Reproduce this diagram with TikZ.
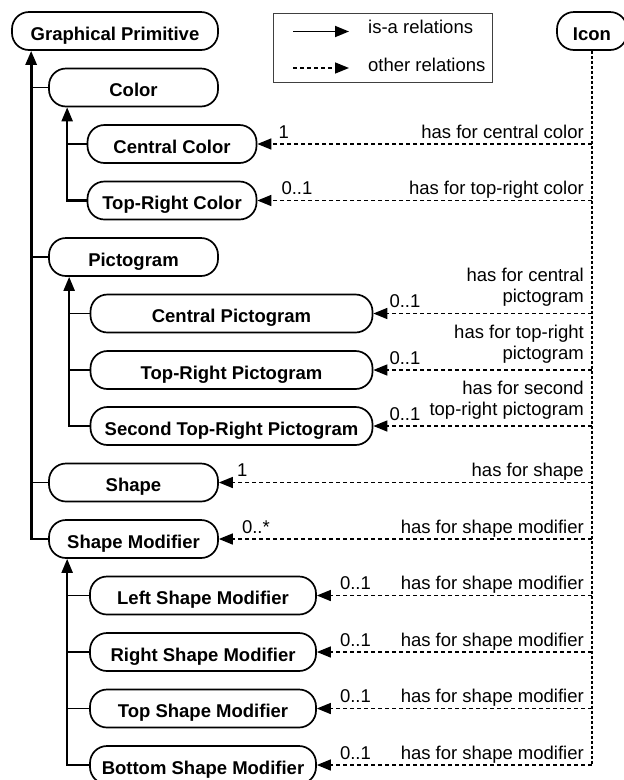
\documentclass[tikz,border=0pt]{standalone}
\usepackage{fontspec}
\setmainfont{Liberation Sans}
\usepackage{tikz}
\usetikzlibrary{arrows.meta,calc}

\tikzset{
  concept/.style={draw, line width=1.7pt, rounded corners=17pt, minimum height=38pt,
    inner sep=0pt, text height=18pt, text depth=0pt,
    font=\bfseries\fontsize{18.5}{22}\selectfont},
  isa/.style={line width=2.2pt, -{Triangle[length=14pt,width=11pt]}},
  branch/.style={line width=1.7pt},
  rel/.style={line width=1.5pt, dash pattern=on 4pt off 3pt, -{Triangle[length=14pt,width=11pt]}},
  iconline/.style={line width=2.8pt, dash pattern=on 3pt off 2pt},
  lbl/.style={font=\fontsize{18.5}{21}\selectfont, inner sep=0pt},
}

\begin{document}
\begin{tikzpicture}[x=1pt, y=-1pt]
      \useasboundingbox (0,0) rectangle (624,780);
      % concepts
      \node [concept, minimum width=206pt] (gp) at (115,31) {Graphical Primitive};
      \node [concept, minimum width=169pt] (color) at (133.5,87.5) {Color};
      \node [concept, minimum width=169pt] (cc) at (172,144) {Central Color};
      \node [concept, minimum width=169pt] (trc) at (172,200.5) {Top-Right Color};
      \node [concept, minimum width=169pt] (picto) at (133.5,257) {Pictogram};
      \node [concept, minimum width=282pt] (cp) at (231.5,313.5) {Central Pictogram};
      \node [concept, minimum width=282pt] (trp) at (231.5,370) {Top-Right Pictogram};
      \node [concept, minimum width=282pt] (strp) at (231.5,426) {Second Top-Right Pictogram};
      \node [concept, minimum width=169pt] (shape) at (133.5,482.5) {Shape};
      \node [concept, minimum width=169pt] (sm) at (133.5,539) {Shape Modifier};
      \node [concept, minimum width=226pt] (lsm) at (203,595.5) {Left Shape Modifier};
      \node [concept, minimum width=226pt] (rsm) at (203,652) {Right Shape Modifier};
      \node [concept, minimum width=226pt] (tsm) at (203,708.5) {Top Shape Modifier};
      \node [concept, minimum width=226pt] (bsm) at (203,765) {Bottom Shape Modifier};
      \node [concept, minimum width=70pt] (icon) at (592,31) {Icon};

      % is-a relations
      \coordinate (gpfoot) at ([xshift=20pt]gp.south west);
      \coordinate (colfoot) at ([xshift=19pt]color.south west);
      \coordinate (picfoot) at ([xshift=21pt]picto.south west);
      \coordinate (smfoot) at ([xshift=19pt]sm.south west);
      \draw [isa, line width=2.8pt] (sm.west) -| (gpfoot);
      \foreach \n in {color, picto, shape}
        \draw [branch] (\n.west) -- (\n.west -| gpfoot);
      \draw [isa] (trc.west) -| (colfoot);
      \draw [branch] (cc.west) -- (cc.west -| colfoot);
      \draw [isa] (strp.west) -| (picfoot);
      \foreach \n in {cp, trp}
        \draw [branch] (\n.west) -- (\n.west -| picfoot);
      \draw [isa] (bsm.west) -| (smfoot);
      \foreach \n in {lsm, rsm, tsm}
        \draw [branch] (\n.west) -- (\n.west -| smfoot);

      % other relations
      \draw [iconline] (icon.south) -- (icon.south |- bsm.east);
      \foreach \n in {cc, trc, cp, trp, strp, shape, sm, lsm, rsm, tsm, bsm}
        \draw [rel] (icon.south |- \n.east) -- (\n.east);

      % multiplicities
      \node [lbl, anchor=base west] (mult-cc) at ($(cc.east)+(21,-6)$) {1};
      \node [lbl, anchor=base west] (mult-trc) at ($(trc.east)+(24,-6)$) {0..1};
      \node [lbl, anchor=base west] (mult-cp) at ($(cp.east)+(16,-6)$) {0..1};
      \node [lbl, anchor=base west] (mult-trp) at ($(trp.east)+(16,-6)$) {0..1};
      \node [lbl, anchor=base west] (mult-strp) at ($(strp.east)+(16,-6)$) {0..1};
      \node [lbl, anchor=base west] (mult-shape) at ($(shape.east)+(18,-6)$) {1};
      \node [lbl, anchor=base west] (mult-sm) at ($(sm.east)+(23,-6)$) {0..*};
      \foreach \n in {lsm, rsm, tsm, bsm}
        \node [lbl, anchor=base west] (mult-\n) at ($(\n.east)+(23,-6)$) {0..1};

      % role names
      \coordinate (rl) at (584,0);
      \node [lbl, anchor=base east] (role-cc) at ($(rl |- cc.east)+(0,-6)$) {has for central color};
      \node [lbl, anchor=base east] (role-trc) at ($(rl |- trc.east)+(0,-6)$) {has for top-right color};
      \node [lbl, anchor=south east, align=right] (role-cp) at ($(rl |- cp.east)+(0,-6.5)$) {has for central\\pictogram};
      \node [lbl, anchor=south east, align=right] (role-trp) at ($(rl |- trp.east)+(0,-6.5)$) {has for top-right\\pictogram};
      \node [lbl, anchor=south east, align=right] (role-strp) at ($(rl |- strp.east)+(0,-6.5)$) {has for second\\top-right pictogram};
      \node [lbl, anchor=base east] (role-shape) at ($(rl |- shape.east)+(0,-6)$) {has for shape};
      \foreach \n in {sm, lsm, rsm, tsm, bsm}
        \node [lbl, anchor=base east] (role-\n) at ($(rl |- \n.east)+(0,-6)$) {has for shape modifier};

      % legend
      \draw [line width=0.8pt, black!75] (273,13) rectangle (492,82);
      \coordinate (la) at (293,31.5);
      \coordinate (lb) at (349,31.5);
      \coordinate (lc) at (293,68);
      \coordinate (ld) at (349,68);
      \draw [isa, line width=1.8pt] (la) -- (lb);
      \draw [rel] (lc) -- (ld);
      \node [lbl, anchor=base west] (leg-isa) at (368,33) {is-a relations};
      \node [lbl, anchor=base west] (leg-other) at (368,71.5) {other relations};
\end{tikzpicture}
\end{document}
